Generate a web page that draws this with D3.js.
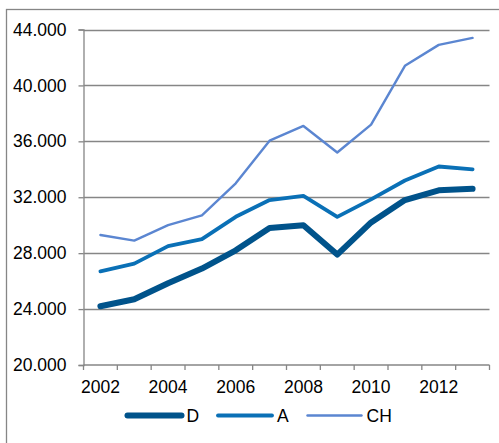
<!DOCTYPE html>
<html>
<head>
<meta charset="utf-8">
<script src="https://cdn.jsdelivr.net/npm/d3@7"></script>
<style>
  body { margin: 0; background: #fff; }
  text { font-family: "Liberation Sans", Arial, sans-serif; fill: #000; }
</style>
</head>
<body>
<div id="chart"></div>
<script>
// data
const years = [2002, 2003, 2004, 2005, 2006, 2007, 2008, 2009, 2010, 2011, 2012, 2013];
const yearLabels = ['2002', '2004', '2006', '2008', '2010', '2012'];
const seriesNames = ['D', 'A', 'CH'];
const valuesD  = [24200, 24700, 25850, 26900, 28200, 29800, 30000, 27900, 30200, 31800, 32500, 32600];
const valuesA  = [26700, 27250, 28500, 29000, 30600, 31800, 32100, 30600, 31850, 33200, 34200, 34000];
const valuesCH = [29300, 28900, 30000, 30700, 33000, 36050, 37100, 35200, 37200, 41400, 42900, 43400];
const yTicks = [20000, 24000, 28000, 32000, 36000, 40000, 44000];

const W = 499, H = 443;
const margin = { top: 29.5, right: 10, bottom: 78, left: 83.5 };

const svg = d3.select('#chart').append('svg')
    .attr('width', W)
    .attr('height', H);

// outer chart frame (extends past the picture on right and bottom)
svg.append('rect')
    .attr('x', 6.5).attr('y', 9.5)
    .attr('width', W + 20).attr('height', H + 20)
    .attr('fill', 'none')
    .attr('stroke', '#868686')
    .attr('stroke-width', 1.3);

const x = d3.scaleBand().domain(years).range([margin.left, 489.5]);
const y = d3.scaleLinear().domain([20000, 44000]).range([365, margin.top]);

const fmt = v => d3.format(',.0f')(v / 1000 * 1000).replace(/,/g, '.').replace(/^(\d+)$/, '$1') ;
const label = v => (v / 1000).toFixed(3);

// gridlines
svg.append('g').selectAll('line')
    .data(yTicks.filter(d => d > 20000))
    .join('line')
    .attr('x1', margin.left).attr('x2', 489.5)
    .attr('y1', d => Math.round(y(d)) + 0.5).attr('y2', d => Math.round(y(d)) + 0.5)
    .attr('stroke', '#868686').attr('stroke-width', 1.3);

// y axis
const yAxis = svg.append('g')
    .attr('transform', `translate(${margin.left},0)`)
    .call(d3.axisLeft(y).tickValues(yTicks).tickSize(5).tickPadding(12).tickFormat(label));
yAxis.select('.domain').attr('stroke', '#868686').attr('stroke-width', 1.3);
yAxis.selectAll('.tick line').attr('stroke', '#868686').attr('stroke-width', 1.3);
yAxis.selectAll('text').style('font-size', '17.5px');

// x axis: ticks between categories, labels every other year
const xAxis = svg.append('g')
    .attr('transform', `translate(0,${y(20000)})`);
xAxis.append('line')
    .attr('x1', margin.left).attr('x2', 489.5)
    .attr('stroke', '#868686').attr('stroke-width', 1.3);
const edges = years.map(d => x(d)).concat([x(years[years.length - 1]) + x.bandwidth()]);
xAxis.selectAll('.tk').data(edges).join('line')
    .attr('class', 'tk')
    .attr('x1', d => d).attr('x2', d => d)
    .attr('y1', 0).attr('y2', 5)
    .attr('stroke', '#868686').attr('stroke-width', 1.3);
xAxis.selectAll('text').data(yearLabels).join('text')
    .attr('x', d => x(+d) + x.bandwidth() / 2)
    .attr('y', 28)
    .attr('text-anchor', 'middle')
    .style('font-size', '17.5px')
    .text(d => d);

// lines
const series = [
    { name: 'D', values: valuesD, color: '#00538b', width: 6 },
    { name: 'A', values: valuesA, color: '#0a70b6', width: 3.8 },
    { name: 'CH', values: valuesCH, color: '#5b86d1', width: 2.4 }
];

const line = d3.line()
    .x((d, i) => x(years[i]) + x.bandwidth() / 2)
    .y(d => y(d));

svg.append('g').selectAll('path')
    .data(series.slice().reverse())
    .join('path')
    .attr('d', d => line(d.values))
    .attr('fill', 'none')
    .attr('stroke', d => d.color)
    .attr('stroke-width', d => d.width)
    .attr('stroke-linejoin', 'round')
    .attr('stroke-linecap', 'round');

// legend
const legendX = [127.5, 218, 307.5];
const legend = svg.append('g').selectAll('g')
    .data(series)
    .join('g')
    .attr('transform', (d, i) => `translate(${legendX[i]},415.5)`);
legend.append('line')
    .attr('x1', 0).attr('x2', 54)
    .attr('stroke', d => d.color)
    .attr('stroke-width', d => d.width)
    .attr('stroke-linecap', 'round');
legend.append('text')
    .attr('x', 59)
    .attr('y', 6.5)
    .style('font-size', '17.5px')
    .text(d => d.name);
</script>
</body>
</html>
